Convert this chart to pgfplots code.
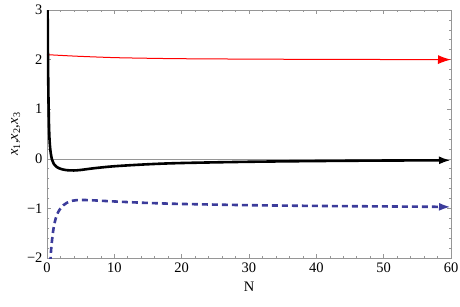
\documentclass[border=0pt]{standalone}
\usepackage{pgfplots}
\pgfplotsset{compat=1.18}
\usetikzlibrary{arrows.meta}
\usepackage{fontspec}
\setmainfont{Liberation Serif}
\definecolor{frameg}{RGB}{150,150,150}
\definecolor{mblue}{RGB}{60,60,155}
\begin{document}
\begin{tikzpicture}[x=1pt,y=1pt]
\useasboundingbox (-47,-48) rectangle (413,258);
\begin{axis}[
  at={(0,0)}, anchor=south west,
  scale only axis, width=404pt, height=248pt,
  xmin=0, xmax=60, ymin=-2, ymax=3,
  xtick={0,10,...,60}, ytick={-2,-1,0,1,2,3},
  yticklabels={−2,−1,0,1,2,3},
  minor x tick num=4, minor y tick num=4,
  tick align=inside,
  major tick length=4pt, minor tick length=2pt,
  axis line style={frameg, line width=0.7pt},
  every tick/.style={frameg, line width=0.6pt},
  tick label style={font=\fontsize{14.5}{16}\selectfont},
  label style={font=\fontsize{14.5}{16}\selectfont},
  /pgf/number format/assume math mode=true,
  xlabel={N},
  ylabel={\textit{x}\textsubscript{1},\textit{x}\textsubscript{2},\textit{x}\textsubscript{3}},
  xlabel style={yshift=-3pt},
  ylabel style={yshift=0pt},
  xticklabel style={yshift=-1pt},
  yticklabel style={xshift=-1pt},
  clip=true,
]
\addplot[frameg, line width=0.6pt] coordinates {(0,0) (60,0)};
\addplot[red, line width=1pt, -{Latex[length=13pt,width=9pt]}, smooth] coordinates {
(0,2.10) (2,2.085) (5,2.065) (10,2.04) (15,2.027) (20,2.018) (30,2.01) (40,2.005) (50,2.002) (60,2.0)};
\addplot[black, line width=2.6pt, -{Latex[length=12pt,width=8pt]}, smooth] coordinates {
(0.06,3.6) (0.1,2.9) (0.15,2.0) (0.22,1.2) (0.3,0.65) (0.4,0.33) (0.55,0.12) (0.75,-0.02) (1.0,-0.1) (1.5,-0.17) (2.2,-0.21) (3.0,-0.23) (4.0,-0.235) (5.0,-0.225) (7,-0.19) (10,-0.15) (15,-0.11) (20,-0.085) (30,-0.06) (40,-0.045) (50,-0.035) (60,-0.03)};
\addplot[mblue, line width=2.6pt, dash pattern=on 6pt off 4pt, -{Latex[length=12pt,width=8pt]}, smooth] coordinates {
(0.42,-2.3) (0.55,-1.95) (0.7,-1.7) (0.95,-1.42) (1.2,-1.25) (1.5,-1.12) (1.9,-1.02) (2.4,-0.94) (2.9,-0.89) (3.8,-0.845) (4.9,-0.83) (6.5,-0.835) (10,-0.86) (15,-0.89) (20,-0.91) (30,-0.935) (40,-0.95) (50,-0.96) (60,-0.97)};
\end{axis}
\end{tikzpicture}
\end{document}
